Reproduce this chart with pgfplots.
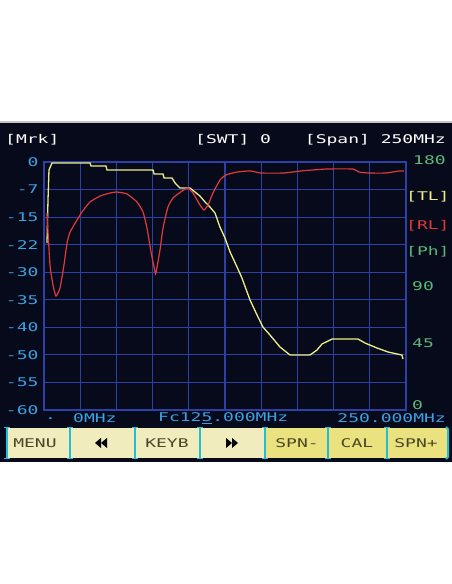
\documentclass[border=0pt]{standalone}
\usepackage{pgfplots}
\pgfplotsset{compat=1.18}
\usepackage{fontspec}
\newfontfamily\lcd[FakeStretch=1.5]{DejaVu Sans Mono}
\definecolor{scr}{HTML}{070A1A}
\definecolor{gridc}{HTML}{2D40A6}
\definecolor{lblue}{HTML}{3AA2E6}
\definecolor{lgreen}{HTML}{5CB87A}
\definecolor{tly}{HTML}{EEEE88}
\definecolor{rlr}{HTML}{E03A3A}
\definecolor{btn}{HTML}{F1ECBE}
\definecolor{btn2}{HTML}{EAE27E}
\definecolor{sep}{HTML}{22BED6}
\definecolor{btxt}{HTML}{4A4624}
\newcommand{\lcdf}{\lcd\fontsize{12}{12}\selectfont}
\begin{document}
\begin{tikzpicture}
\fill[white] (0pt,0pt) rectangle (452pt,584pt);
\fill[gray!45] (0pt,460pt) rectangle (452pt,463pt);
\fill[scr] (0pt,122pt) rectangle (452pt,461pt);
% top texts
\node[anchor=west,text=white,font=\lcdf,inner sep=0pt] at (5pt,444pt) {[Mrk]};
\node[anchor=west,text=white,font=\lcdf,inner sep=0pt] at (195pt,444pt) {[SWT] 0};
\node[anchor=east,text=white,font=\lcdf,inner sep=0pt] at (446pt,444pt) {[Span] 250MHz};
\begin{axis}[
  at={(44pt,174pt)}, anchor=south west,
  scale only axis, width=362pt, height=248pt,
  xmin=0, xmax=250, ymin=0, ymax=180,
  xtick={0,25,50,75,100,125,150,175,200,225,250}, ytick={0,20,...,180},
  xticklabels={},
  yticklabels={-60,-55,-50,-40,-35,-30,-22,-15,-7,0},
  yticklabel style={font=\lcdf, text=lblue, xshift=-2pt},
  major tick length=0pt,
  grid=major,
  major grid style={draw=gridc, line width=1.2pt},
  axis line style={draw=gridc, line width=1.2pt},
  clip=false,
]
\addplot[color=tly, line width=1.3pt] coordinates {
(2.07,121.2)(2.76,152.4)(3.45,174.2)(5.52,179.3)(31.8,179.3)(32.5,177.1)
(42.8,177.1)(43.5,174.2)(75.3,174.2)(76.0,171.3)(82.2,171.3)(82.9,168.4)
(88.4,168.4)(90.5,164.8)(93.9,161.1)(100.8,161.1)(104.3,158.2)(107.7,155.3)
(111.2,151.0)(114.6,147.3)(118.1,143.0)(121.5,132.8)(125.0,124.8)(128.5,114.7)
(133.3,103.8)(136.7,95.8)(142.3,79.8)(147.1,69.0)(151.2,60.2)(156.1,54.4)
(163.0,45.7)(169.9,39.9)(183.7,39.9)(188.5,43.5)(192.0,47.9)(198.9,51.5)
(216.9,51.5)(221.7,48.6)(230.0,45.0)(237.6,42.1)(247.2,39.9)(247.9,37.0)
};
\addplot[color=rlr, line width=1.2pt, smooth, tension=0.3] coordinates {
(2.07,143.0)(4.14,105.2)(6.22,90.7)(8.29,82.7)(11.05,88.5)(13.8,105.2)
(15.9,121.2)(18.0,129.2)(22.8,137.9)(26.2,143.7)(31.8,151.0)(38.7,155.3)
(45.6,157.5)(50.4,158.2)(57.3,156.8)(64.2,151.0)(68.4,143.7)(71.1,132.1)
(73.9,114.7)(76.7,100.2)(77.3,99.4)(80.1,116.1)(82.2,132.1)(85.6,147.3)
(89.1,153.9)(95.3,158.9)(99.4,161.1)(102.9,157.5)(107.7,148.8)(110.5,145.2)
(113.3,148.8)(116.7,157.5)(121.5,166.9)(125.7,170.6)(133.3,172.7)(142.3,173.5)
(149.9,172.0)(165.7,172.0)(177.5,173.5)(194.8,174.9)(213.4,174.9)(217.5,172.7)
(224.4,172.0)(236.2,172.0)(245.2,173.5)(248.6,173.5)
};
\end{axis}
% right labels
\node[anchor=west,text=lgreen,font=\lcdf,inner sep=0pt] at (413pt,424pt) {180};
\node[anchor=west,text=tly,font=\lcdf,inner sep=0pt] at (406pt,387pt) {[TL]};
\node[anchor=west,text=rlr,font=\lcdf,inner sep=0pt] at (406pt,358pt) {[RL]};
\node[anchor=west,text=lgreen,font=\lcdf,inner sep=0pt] at (406pt,332pt) {[Ph]};
\node[anchor=west,text=lgreen,font=\lcdf,inner sep=0pt] at (412pt,298pt) {90};
\node[anchor=west,text=lgreen,font=\lcdf,inner sep=0pt] at (412pt,241pt) {45};
\node[anchor=west,text=lgreen,font=\lcdf,inner sep=0pt] at (412pt,179pt) {0};
% bottom labels
\node[anchor=west,text=lblue,font=\lcdf,inner sep=0pt] at (45pt,165pt) {.};
\node[anchor=west,text=lblue,font=\lcdf,inner sep=0pt] at (73pt,166pt) {0MHz};
\node[anchor=west,text=lblue,font=\lcdf,inner sep=0pt] at (158pt,166pt) {Fc12\underline{5}.000MHz};
\node[anchor=east,text=lblue,font=\lcdf,inner sep=0pt] at (446pt,166pt) {250.000MHz};
% buttons
\fill[btn] (8pt,126pt) rectangle (69pt,156pt);
\fill[btn] (71pt,126pt) rectangle (134pt,156pt);
\fill[btn] (136pt,126pt) rectangle (199pt,156pt);
\fill[btn] (201pt,126pt) rectangle (264pt,156pt);
\fill[btn2] (266pt,126pt) rectangle (327pt,156pt);
\fill[btn2] (329pt,126pt) rectangle (386pt,156pt);
\fill[btn2] (388pt,126pt) rectangle (447pt,156pt);
\foreach \s in {7,70,135,200,265,328,387} {
  \draw[sep, line width=2.5pt] (\s pt,125pt) -- (\s pt,157pt);
  \draw[sep, line width=1.5pt] (\s pt-3pt,125.5pt) -- (\s pt+3pt,125.5pt);
  \draw[sep, line width=1.5pt] (\s pt-3pt,156.5pt) -- (\s pt+3pt,156.5pt);
}
\draw[sep, line width=2pt] (446pt,157pt) -- (448pt,155pt) -- (448pt,127pt) -- (446pt,125pt);
\node[text=btxt,font=\lcdf,inner sep=0pt] at (35pt,141pt) {MENU};
\node[text=btxt,font=\lcdf,inner sep=0pt] at (167pt,141pt) {KEYB};
\node[text=btxt,font=\lcdf,inner sep=0pt] at (297pt,141pt) {SPN-};
\node[text=btxt,font=\lcdf,inner sep=0pt] at (357pt,141pt) {CAL};
\node[text=btxt,font=\lcdf,inner sep=0pt] at (416pt,141pt) {SPN+};
\fill[black] (95pt,141pt) -- (101pt,146pt) -- (101pt,136pt) -- cycle;
\fill[black] (101pt,141pt) -- (107pt,146pt) -- (107pt,136pt) -- cycle;
\fill[black] (238pt,141pt) -- (232pt,146pt) -- (232pt,136pt) -- cycle;
\fill[black] (232pt,141pt) -- (226pt,146pt) -- (226pt,136pt) -- cycle;
\end{tikzpicture}
\end{document}
